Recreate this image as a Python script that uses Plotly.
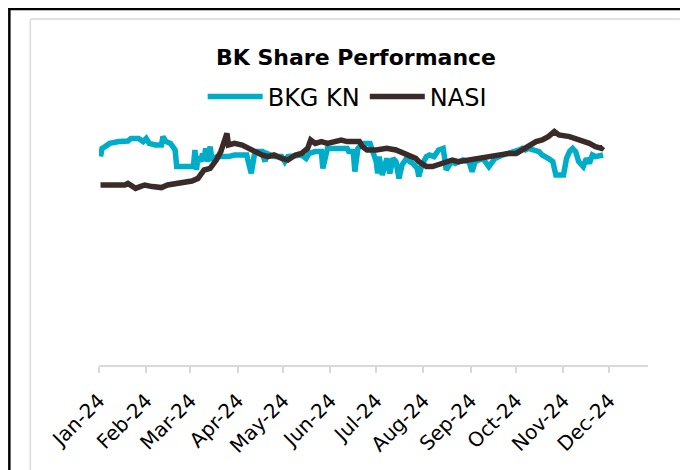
import plotly.graph_objects as go

# ---- data (index units) ----
bkg_dates = [
    "2024-01-02", "2024-01-03", "2024-01-05", "2024-01-08", "2024-01-14", "2024-01-20", "2024-01-22",
    "2024-01-27", "2024-01-30", "2024-02-01", "2024-02-03", "2024-02-07", "2024-02-11", "2024-02-12",
    "2024-02-14", "2024-02-17", "2024-02-20", "2024-02-21", "2024-02-26", "2024-03-03", "2024-03-04",
    "2024-03-05", "2024-03-06", "2024-03-08", "2024-03-09", "2024-03-10", "2024-03-11", "2024-03-12",
    "2024-03-14", "2024-03-15", "2024-03-19", "2024-03-26", "2024-03-30", "2024-04-07", "2024-04-08",
    "2024-04-10", "2024-04-12", "2024-04-14", "2024-04-17", "2024-04-19", "2024-04-20", "2024-04-25",
    "2024-04-30", "2024-05-02", "2024-05-04", "2024-05-10", "2024-05-13", "2024-05-16", "2024-05-18",
    "2024-05-22", "2024-05-26", "2024-05-27", "2024-05-29", "2024-05-30", "2024-06-12", "2024-06-13",
    "2024-06-16", "2024-06-17", "2024-06-19", "2024-06-22", "2024-06-27", "2024-06-29", "2024-07-01",
    "2024-07-02", "2024-07-03", "2024-07-05", "2024-07-08", "2024-07-10", "2024-07-12", "2024-07-14",
    "2024-07-16", "2024-07-18", "2024-07-21", "2024-07-23", "2024-07-25", "2024-07-28", "2024-07-29",
    "2024-07-31", "2024-08-03", "2024-08-05", "2024-08-08", "2024-08-11", "2024-08-14", "2024-08-15",
    "2024-08-16", "2024-08-18", "2024-08-20", "2024-08-22", "2024-08-27", "2024-08-31", "2024-09-02",
    "2024-09-04", "2024-09-09", "2024-09-13", "2024-09-15", "2024-09-17", "2024-09-22", "2024-09-26",
    "2024-10-01", "2024-10-03", "2024-10-05", "2024-10-07", "2024-10-09", "2024-10-14", "2024-10-16",
    "2024-10-18", "2024-10-21", "2024-10-22", "2024-10-25", "2024-10-27", "2024-11-01", "2024-11-03",
    "2024-11-05", "2024-11-07", "2024-11-09", "2024-11-11", "2024-11-14", "2024-11-16", "2024-11-18",
    "2024-11-20", "2024-11-22", "2024-11-27",
]
bkg_values = [
    104.2, 108.3, 109.2, 110.8, 111.7, 112.0, 113.3,
    113.3, 111.7, 113.3, 110.8, 110.0, 110.0, 114.2,
    111.7, 110.8, 107.5, 99.2, 99.2, 99.2, 107.5,
    97.5, 104.2, 101.7, 105.8, 102.5, 108.3, 101.7,
    109.2, 103.3, 104.2, 104.2, 105.0, 105.0, 101.7,
    95.8, 105.0, 106.7, 106.7, 101.7, 105.8, 104.2,
    104.2, 101.7, 104.2, 105.0, 105.0, 103.3, 105.8,
    106.7, 106.7, 98.3, 106.7, 108.3, 108.3, 106.7,
    106.7, 96.7, 108.3, 110.8, 110.8, 105.0, 101.7,
    95.8, 104.2, 95.0, 103.3, 95.8, 103.3, 101.7,
    93.3, 100.0, 103.3, 101.7, 100.8, 98.3, 94.2,
    100.0, 104.2, 105.0, 104.2, 107.5, 108.3, 103.3,
    97.5, 100.0, 101.7, 100.8, 102.5, 101.7, 96.7,
    101.7, 103.3, 99.2, 101.7, 103.3, 105.0, 105.8,
    106.7, 107.5, 108.3, 107.5, 108.3, 107.5, 106.7,
    105.0, 104.2, 103.3, 101.7, 95.0, 95.0, 103.3,
    106.7, 108.3, 106.7, 101.7, 99.2, 103.3, 100.8,
    105.0, 104.2, 105.0,
]

nasi_dates = [
    "2024-01-02", "2024-01-10", "2024-01-18", "2024-01-20", "2024-01-25", "2024-01-28", "2024-01-31",
    "2024-02-05", "2024-02-11", "2024-02-15", "2024-02-22", "2024-02-26", "2024-03-02", "2024-03-06",
    "2024-03-10", "2024-03-14", "2024-03-16", "2024-03-18", "2024-03-21", "2024-03-24", "2024-03-25",
    "2024-03-26", "2024-03-30", "2024-04-04", "2024-04-08", "2024-04-12", "2024-04-17", "2024-04-21",
    "2024-04-25", "2024-04-30", "2024-05-04", "2024-05-09", "2024-05-13", "2024-05-17", "2024-05-19",
    "2024-05-22", "2024-05-26", "2024-05-30", "2024-06-04", "2024-06-08", "2024-06-12", "2024-06-20",
    "2024-06-22", "2024-06-25", "2024-07-01", "2024-07-08", "2024-07-14", "2024-07-19", "2024-07-23",
    "2024-07-27", "2024-07-29", "2024-08-03", "2024-08-07", "2024-08-11", "2024-08-16", "2024-08-20",
    "2024-08-24", "2024-08-31", "2024-09-04", "2024-09-09", "2024-09-13", "2024-09-17", "2024-09-22",
    "2024-09-26", "2024-10-01", "2024-10-05", "2024-10-09", "2024-10-14", "2024-10-18", "2024-10-22",
    "2024-10-26", "2024-10-29", "2024-11-05", "2024-11-09", "2024-11-14", "2024-11-18", "2024-11-22",
    "2024-11-26", "2024-11-27",
]
nasi_values = [
    90.0, 90.0, 90.0, 90.8, 88.3, 89.2, 90.0,
    89.2, 88.7, 90.0, 90.8, 91.7, 92.0, 93.3,
    97.5, 98.3, 100.0, 102.5, 106.7, 114.2, 115.8,
    110.0, 110.8, 110.0, 108.3, 106.7, 105.0, 104.2,
    105.0, 103.3, 102.5, 105.0, 105.8, 108.3, 112.5,
    110.8, 111.7, 110.8, 111.7, 112.5, 111.7, 111.7,
    109.2, 107.5, 107.5, 108.3, 107.5, 105.8, 104.2,
    103.3, 101.7, 99.2, 99.2, 100.0, 101.7, 102.5,
    101.7, 102.5, 103.3, 104.2, 104.2, 105.0, 105.0,
    105.8, 105.8, 107.5, 109.2, 111.7, 112.5, 114.2,
    116.7, 115.0, 114.2, 113.3, 111.7, 110.8, 109.2,
    108.3, 109.2,
]

series_names = ["BKG KN", "NASI"]
series_colors = ["#00ADC9", "#3A2B29"]

# page is shown with the browser's default 8px body margin; work in page pixels
OFF = 8
W, H = 680, 462
L, R, T, B = 98.7 - OFF, 688 - 648, 115 - OFF, 470 - 365
PW, PH = W - L - R, H - T - B


def px(x):
    """page x pixel -> paper fraction"""
    return (x - OFF - L) / PW


def py(y):
    """page y pixel -> paper fraction"""
    return (H - B - (y - OFF)) / PH


fig = go.Figure()
fig.add_trace(go.Scatter(x=bkg_dates, y=bkg_values, mode="lines", name=series_names[0],
                         line=dict(color=series_colors[0], width=5.5)))
fig.add_trace(go.Scatter(x=nasi_dates, y=nasi_values, mode="lines", name=series_names[1],
                         line=dict(color=series_colors[1], width=5.5)))

font_family = "DejaVu Sans, Open Sans, sans-serif"

fig.update_layout(
    width=W, height=H,
    margin=dict(l=L, r=R, t=T, b=B, pad=0),
    paper_bgcolor="white", plot_bgcolor="white",
    font=dict(family=font_family, color="#000000"),
    title=dict(text="<b>BK Share Performance</b>", xref="container", x=(356 - OFF) / W,
               xanchor="center", yref="container", y=1 - (57 - OFF) / H, yanchor="middle",
               font=dict(size=22, color="#000000")),
    legend=dict(orientation="h", x=px(347), xanchor="center", y=py(97), yanchor="middle",
                font=dict(size=24, color="#000000"), bgcolor="rgba(0,0,0,0)",
                itemwidth=55),
    showlegend=True,
    xaxis=dict(type="date", range=["2024-01-01", "2024-12-26 12:00"],
               tick0="2024-01-01", dtick="M1", tickformat="%b-%y", tickangle=-45,
               ticks="outside", ticklen=6, tickcolor="#D9D9D9", tickwidth=1.5,
               showline=True, linecolor="#D9D9D9", linewidth=2,
               showgrid=False, zeroline=False, ticklabelstandoff=8,
               tickfont=dict(size=20, color="#000000")),
    yaxis=dict(range=[0, 125], showticklabels=False, showgrid=False, zeroline=False,
               showline=False, ticks=""),
)

# outer black frame (top & left) and inner grey chart border
fig.add_shape(type="line", xref="paper", yref="paper", x0=px(8), x1=px(700), y0=py(9), y1=py(9),
              line=dict(color="#000000", width=2.5))
fig.add_shape(type="line", xref="paper", yref="paper", x0=px(9), x1=px(9), y0=py(8), y1=py(480),
              line=dict(color="#000000", width=2.5))
fig.add_shape(type="line", xref="paper", yref="paper", x0=px(30), x1=px(680), y0=py(19), y1=py(19),
              line=dict(color="#D9D9D9", width=1.5))
fig.add_shape(type="line", xref="paper", yref="paper", x0=px(30), x1=px(30), y0=py(19), y1=py(480),
              line=dict(color="#D9D9D9", width=1.5))

fig.write_html("out.html")
